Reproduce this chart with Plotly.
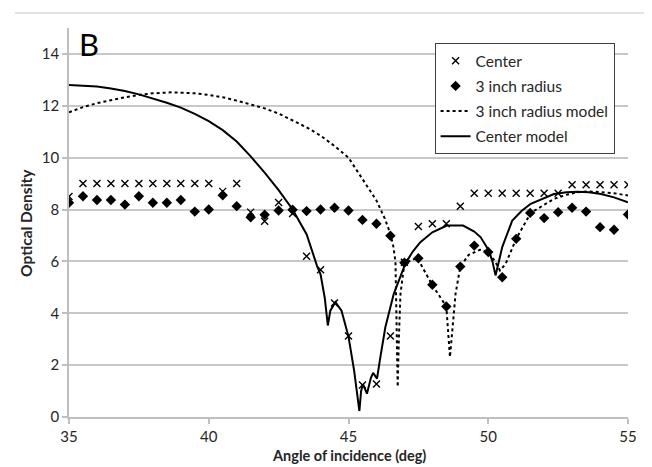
import plotly.graph_objects as go

# ---- data ----
center_x = [35, 35.5, 36, 36.5, 37, 37.5, 38, 38.5, 39, 39.5, 40, 40.5, 41, 41.5, 42, 42.5,
            43, 43.5, 44, 44.5, 45, 45.5, 46, 46.5, 47, 47.5, 48, 48.5, 49, 49.5, 50, 50.5,
            51, 51.5, 52, 52.5, 53, 53.5, 54, 54.5, 55]
center_y = [8.5, 9.0, 9.0, 9.0, 9.0, 9.0, 9.0, 9.0, 9.0, 9.0, 9.0, 8.7, 9.0, 7.9, 7.55, 8.27,
            7.85, 6.2, 5.68, 4.4, 3.12, 1.23, 1.27, 3.12, 5.97, 7.35, 7.45, 7.45, 8.13, 8.63, 8.63, 8.63,
            8.63, 8.63, 8.63, 8.63, 8.96, 8.96, 8.96, 8.96, 8.96]

radius_x = center_x
radius_y = [8.26, 8.51, 8.37, 8.37, 8.19, 8.51, 8.26, 8.26, 8.37, 7.92, 8.0, 8.55, 8.13, 7.7, 7.8, 7.96,
            7.99, 7.94, 8.0, 8.07, 7.96, 7.6, 7.45, 6.99, 5.95, 6.12, 5.1, 4.26, 5.8, 6.61, 6.36, 5.39,
            6.87, 7.87, 7.67, 7.9, 8.07, 7.92, 7.32, 7.22, 7.81]

radius_model_x = [35, 35.5, 36, 36.5, 37, 37.5, 38, 38.7, 39.5, 40, 40.5, 41, 41.5, 42, 42.5, 43,
                  43.5, 44, 44.5, 45, 45.25, 45.5, 45.75, 46, 46.15, 46.3, 46.5, 46.6, 46.68, 46.72,
                  46.76, 46.8, 46.86, 47.0, 47.46, 47.99, 48.5, 48.63, 48.71, 48.83, 49.0, 49.3,
                  49.7, 50.0, 50.26, 50.42, 50.62, 51.0, 51.52, 52.0, 52.35, 52.8, 53.19, 53.6,
                  54.03, 54.5, 55]
radius_model_y = [11.75, 11.95, 12.1, 12.22, 12.33, 12.42, 12.48, 12.52, 12.48, 12.42, 12.33, 12.2,
                  12.06, 11.9, 11.7, 11.45, 11.17, 10.85, 10.45, 10.0, 9.6, 9.15, 8.8, 8.35, 8.0,
                  7.65, 7.06, 6.6, 6.0, 4.0, 1.16, 3.0, 4.75, 5.93, 6.14, 5.1, 4.26, 2.31, 3.4, 4.75,
                  5.8, 6.25, 6.45, 6.36, 5.97, 5.65, 5.9, 6.87, 7.87, 8.2, 8.41, 8.57, 8.67, 8.7,
                  8.67, 8.63, 8.54]

center_model_x = [35, 35.5, 36, 36.5, 37, 37.5, 38, 38.5, 39, 39.5, 40, 40.5, 41, 41.5, 42, 42.5,
                  43, 43.5, 43.87, 44.0, 44.15, 44.26, 44.35, 44.53, 44.75, 45, 45.2, 45.39, 45.45,
                  45.52, 45.66, 45.8, 45.88, 46.02, 46.14, 46.32, 46.62, 47.04, 47.3, 47.57, 48.0,
                  48.52, 49.1, 49.5, 49.73, 50.02, 50.15, 50.26, 50.38, 50.5, 50.86, 51.2, 51.52,
                  52.0, 52.35, 52.8, 53.19, 53.6, 54.03, 54.5, 55]
center_model_y = [12.8, 12.78, 12.74, 12.67, 12.57, 12.44, 12.29, 12.12, 11.93, 11.69, 11.41, 11.06,
                  10.62, 10.05, 9.42, 8.75, 8.0, 7.05, 5.84, 5.5, 4.6, 3.53, 4.1, 4.43, 4.1, 3.1,
                  1.8, 0.23, 1.0, 1.26, 0.9, 1.5, 1.7, 1.48, 2.31, 3.47, 4.75, 5.93, 6.38, 6.74,
                  7.12, 7.38, 7.38, 7.15, 6.93, 6.42, 6.0, 5.46, 6.0, 6.55, 7.58, 7.95, 8.22, 8.45,
                  8.6, 8.67, 8.69, 8.67, 8.6, 8.47, 8.28]

y_ticks = [0, 2, 4, 6, 8, 10, 12, 14]
x_ticks = [35, 40, 45, 50, 55]

FONT = "Lato"
TXT = "#262626"

fig = go.Figure()
fig.add_trace(go.Scatter(x=center_x, y=center_y, mode="markers", name="Center",
                         legendgroup="a",
                         marker=dict(symbol="x-thin", size=7, line=dict(width=1.4, color="black"),
                                     color="black")))
fig.add_trace(go.Scatter(x=radius_x, y=radius_y, mode="markers", name="3 inch radius",
                         legendgroup="b",
                         marker=dict(symbol="diamond", size=8, color="black")))
fig.add_trace(go.Scatter(x=radius_model_x, y=radius_model_y, mode="lines", name="3 inch radius model",
                         legendgroup="c",
                         line=dict(color="black", width=2, dash="dot")))
fig.add_trace(go.Scatter(x=center_model_x, y=center_model_y, mode="lines", name="Center model",
                         legendgroup="d",
                         line=dict(color="black", width=2)))

fig.update_layout(
    width=644, height=459,
    margin=dict(l=61, r=24, t=20, b=50),
    paper_bgcolor="white", plot_bgcolor="white",
    font=dict(family=FONT, size=15, color=TXT),
    showlegend=True,
    legend=dict(x=0.654, y=0.961, xanchor="left", yanchor="top",
                bgcolor="white", bordercolor="#404040", borderwidth=1,
                font=dict(family=FONT, size=15.5, color=TXT),
                tracegroupgap=2, itemwidth=30),
    xaxis=dict(range=[35, 55], tickvals=x_ticks, ticktext=[str(v) for v in x_ticks],
               showgrid=False, zeroline=False, showline=True, linecolor="#bfbfbf", linewidth=1.5,
               ticks="outside", ticklen=5, tickcolor="#bfbfbf", tickwidth=1.5,
               tickfont=dict(family=FONT, size=15, color=TXT)),
    yaxis=dict(range=[0, 15], tickvals=y_ticks, ticktext=[str(v) for v in y_ticks],
               showgrid=True, gridcolor="#c8c8c8", gridwidth=1.5, zeroline=False,
               showline=True, linecolor="#bfbfbf", linewidth=1.5,
               ticks="outside", ticklen=5, tickcolor="#bfbfbf", tickwidth=1.5,
               tickfont=dict(family=FONT, size=15, color=TXT)),
    annotations=[
        dict(text="B", xref="paper", yref="paper", x=0.014, y=0.96, xanchor="left", yanchor="middle",
             showarrow=False, font=dict(family=FONT, size=31, color="black")),
        dict(text="<b>Optical Density</b>", xref="paper", yref="paper", x=-0.078, y=0.5,
             xanchor="center", yanchor="middle", textangle=-90, showarrow=False,
             font=dict(family=FONT, size=15.5, color=TXT)),
        dict(text="<b>Angle of incidence (deg)</b>", xref="paper", yref="paper", x=0.5, y=-0.074,
             xanchor="center", yanchor="top", showarrow=False, borderpad=0,
             font=dict(family=FONT, size=14.5, color=TXT)),
    ],
    shapes=[
        dict(type="line", xref="paper", yref="paper", x0=-0.097, x1=1.036, y0=1.0386, y1=1.0386,
             line=dict(color="#d9d9d9", width=1.5)),
        dict(type="line", xref="paper", yref="paper", x0=1.036, x1=1.036, y0=1.0386, y1=-0.2,
             line=dict(color="#d9d9d9", width=1.5)),
    ],
)

fig.write_html("out.html")
